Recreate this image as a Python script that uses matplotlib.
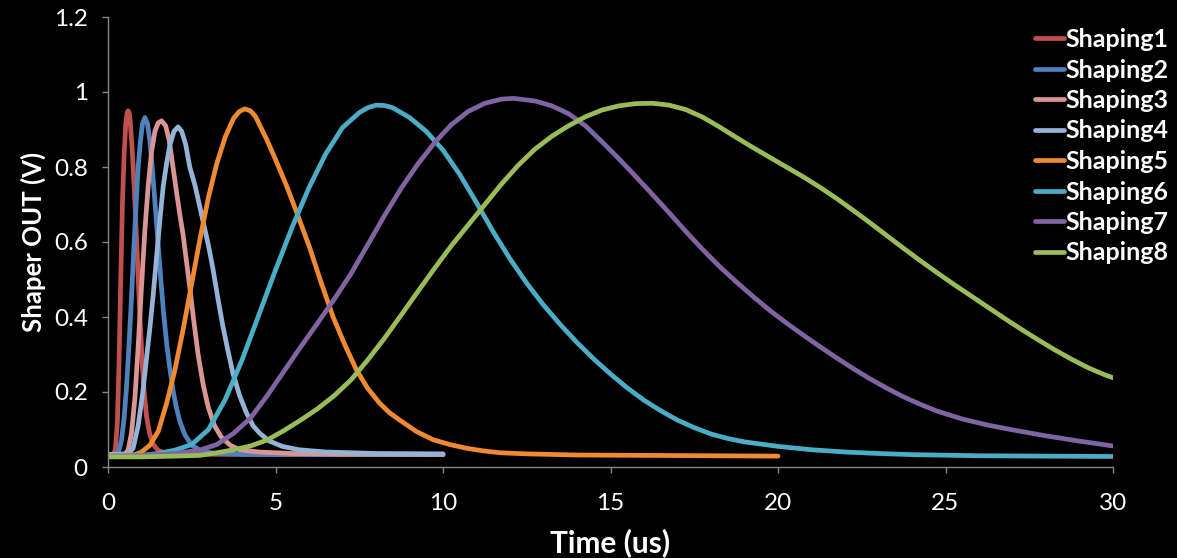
import matplotlib
matplotlib.use("Agg")
import matplotlib.pyplot as plt

plt.rcParams['font.family'] = ['Lato', 'DejaVu Sans']

# Shaper output pulses: time (us) and amplitude (V) for each shaping setting
t1 = [0, 0.15, 0.22, 0.28, 0.33, 0.38, 0.43, 0.48, 0.53, 0.57, 0.6, 0.63, 0.66, 0.72, 0.78, 0.84, 0.9,
      0.96, 1.02, 1.08, 1.15, 1.24, 1.35, 1.5, 1.75, 2.0, 3.0, 5.0, 7.5, 10.0]
v1 = [0.033, 0.034, 0.045, 0.12, 0.28, 0.50, 0.70, 0.83, 0.915, 0.945, 0.95, 0.945, 0.925, 0.85, 0.75, 0.63, 0.51,
      0.39, 0.28, 0.20, 0.135, 0.09, 0.06, 0.044, 0.037, 0.035, 0.034, 0.033, 0.033, 0.033]

t2 = [0, 0.25, 0.32, 0.4, 0.48, 0.55, 0.63, 0.7, 0.77, 0.84, 0.9, 0.97, 1.03, 1.1, 1.18, 1.25,
      1.32, 1.45, 1.55, 1.65, 1.75, 1.85, 1.95, 2.05, 2.15, 2.3, 2.5, 2.8, 3.2, 4.0, 6.0, 8.0, 10.0]
v2 = [0.033, 0.035, 0.042, 0.07, 0.13, 0.21, 0.33, 0.45, 0.58, 0.70, 0.80, 0.87, 0.915, 0.932, 0.915, 0.87,
      0.80, 0.65, 0.53, 0.42, 0.33, 0.26, 0.20, 0.155, 0.12, 0.085, 0.058, 0.042, 0.036, 0.034, 0.033, 0.033, 0.033]

t3 = [0, 0.5, 0.6, 0.7, 0.8, 0.9, 1.0, 1.1, 1.2, 1.3, 1.4, 1.5, 1.6, 1.72, 1.83, 1.94, 2.05, 2.15,
      2.24, 2.34, 2.44, 2.56, 2.69, 2.84, 2.99, 3.18, 3.38, 3.65, 3.93, 4.5, 5.5, 7.0, 10.0]
v3 = [0.033, 0.034, 0.045, 0.09, 0.18, 0.32, 0.48, 0.63, 0.75, 0.84, 0.895, 0.918, 0.923, 0.91, 0.87, 0.80, 0.73, 0.67,
      0.62, 0.55, 0.48, 0.39, 0.30, 0.22, 0.16, 0.11, 0.08, 0.058, 0.046, 0.04, 0.036, 0.034, 0.033]

t4 = [0, 0.6, 0.75, 0.9, 1.04, 1.15, 1.25, 1.35, 1.45, 1.55, 1.65, 1.75, 1.85, 1.97, 2.09, 2.2, 2.32,
      2.44, 2.6, 2.75, 2.9, 3.0, 3.13, 3.28, 3.43, 3.58, 3.73, 3.93, 4.13, 4.33, 4.53, 4.8, 5.2, 5.7,
      6.5, 8.0, 10.0]
v4 = [0.033, 0.035, 0.05, 0.11, 0.20, 0.29, 0.37, 0.46, 0.56, 0.66, 0.75, 0.81, 0.86, 0.895, 0.907, 0.895, 0.86,
      0.80, 0.75, 0.69, 0.63, 0.59, 0.53, 0.45, 0.375, 0.31, 0.25, 0.19, 0.145, 0.11, 0.09, 0.07, 0.055, 0.046,
      0.04, 0.036, 0.035]

t5 = [0, 0.8, 1.0, 1.25, 1.5, 1.75, 2.0, 2.25, 2.5, 2.75, 3.0, 3.25, 3.5, 3.75, 3.92, 4.08, 4.25, 4.4,
      4.73, 5.0, 5.33, 5.67, 6.02, 6.35, 6.72, 7.05, 7.41, 7.75, 8.11, 8.4, 8.71, 9.2, 9.7, 10.2, 10.7,
      11.2, 11.7, 12.5, 14.0, 16.0, 18.0, 20.0]
v5 = [0.03, 0.033, 0.04, 0.058, 0.095, 0.17, 0.26, 0.37, 0.49, 0.61, 0.72, 0.81, 0.88, 0.93, 0.948, 0.955, 0.95, 0.935,
      0.875, 0.82, 0.75, 0.67, 0.585, 0.495, 0.40, 0.33, 0.26, 0.21, 0.17, 0.145, 0.125, 0.095, 0.073, 0.06, 0.05,
      0.043, 0.038, 0.035, 0.032, 0.031, 0.030, 0.029]

t6 = [0, 1.0, 1.5, 2.0, 2.5, 3.0, 3.5, 4.0, 4.5, 5.0, 5.5, 6.0, 6.5, 7.0, 7.5, 7.75, 8.0, 8.25, 8.5,
      9.0, 9.5, 10.0, 10.5, 11.0, 11.5, 12.0, 12.5, 13.0, 13.5, 14.0, 14.5, 15.0, 15.5, 16.0, 16.5,
      17.0, 17.5, 18.0, 18.5, 19.0, 20.0, 21.0, 22.0, 23.0, 24.0, 26.0, 28.0, 30.0]
v6 = [0.03, 0.031, 0.036, 0.045, 0.06, 0.10, 0.18, 0.285, 0.405, 0.525, 0.64, 0.745, 0.835, 0.905, 0.945, 0.958, 0.965, 0.964, 0.958,
      0.932, 0.895, 0.845, 0.78, 0.705, 0.627, 0.555, 0.49, 0.432, 0.38, 0.332, 0.288, 0.248, 0.211, 0.178, 0.15,
      0.125, 0.105, 0.088, 0.076, 0.067, 0.055, 0.046, 0.040, 0.036, 0.033, 0.030, 0.029, 0.028]

t7 = [0, 1.0, 2.0, 2.74, 3.25, 3.75, 4.25, 4.75, 5.25, 5.75, 6.25, 6.75, 7.25, 7.75, 8.25, 8.75, 9.25,
      9.75, 10.25, 10.75, 11.25, 11.75, 12.1, 12.75, 13.25, 13.75, 14.25, 14.75, 15.25, 15.75, 16.25,
      16.75, 17.25, 17.75, 18.25, 18.75, 19.25, 19.75, 20.25, 20.75, 21.25, 21.75, 22.25, 22.75, 23.25,
      23.75, 24.25, 24.75, 25.5, 26.25, 27.0, 28.0, 29.0, 30.0]
v7 = [0.028, 0.03, 0.036, 0.045, 0.06, 0.09, 0.13, 0.19, 0.255, 0.32, 0.383, 0.447, 0.515, 0.592, 0.67, 0.743, 0.808,
      0.865, 0.913, 0.948, 0.97, 0.981, 0.983, 0.976, 0.963, 0.942, 0.91, 0.867, 0.822, 0.775, 0.727,
      0.678, 0.628, 0.58, 0.535, 0.494, 0.455, 0.418, 0.384, 0.352, 0.321, 0.291, 0.262, 0.235, 0.21,
      0.187, 0.167, 0.149, 0.128, 0.112, 0.099, 0.083, 0.069, 0.056]

t8 = [0, 1.0, 2.0, 2.75, 3.25, 3.75, 4.25, 4.75, 5.25, 5.75, 6.25, 6.75, 7.25, 7.75, 8.25, 8.75, 9.25,
      9.75, 10.25, 10.75, 11.25, 11.75, 12.25, 12.75, 13.25, 13.75, 14.25, 14.75, 15.25, 15.75, 16.25,
      16.75, 17.25, 17.75, 18.25, 18.75, 19.25, 19.75, 20.25, 20.75, 21.25, 21.75, 22.25, 22.75, 23.25,
      23.75, 24.25, 24.75, 25.25, 25.75, 26.25, 26.75, 27.25, 27.75, 28.25, 28.75, 29.25, 29.75, 30.0]
v8 = [0.027, 0.027, 0.029, 0.031, 0.038, 0.046, 0.056, 0.072, 0.097, 0.125, 0.155, 0.19, 0.232, 0.285, 0.343, 0.405, 0.468,
      0.53, 0.59, 0.645, 0.70, 0.755, 0.805, 0.848, 0.882, 0.91, 0.934, 0.952, 0.963, 0.969, 0.97,
      0.965, 0.953, 0.933, 0.907, 0.879, 0.852, 0.826, 0.80, 0.774, 0.746, 0.716, 0.684, 0.651, 0.617,
      0.583, 0.55, 0.518, 0.487, 0.457, 0.427, 0.397, 0.368, 0.34, 0.313, 0.288, 0.265, 0.246, 0.238]

series_names = ["Shaping1", "Shaping2", "Shaping3", "Shaping4",
                "Shaping5", "Shaping6", "Shaping7", "Shaping8"]
series_t = [t1, t2, t3, t4, t5, t6, t7, t8]
series_v = [v1, v2, v3, v4, v5, v6, v7, v8]
series_colors = ["#C0504D", "#4F81BD", "#D99694", "#95B3D7",
                 "#F08A32", "#4BACC6", "#8064A2", "#9BBB59"]

x_ticks = [0, 5, 10, 15, 20, 25, 30]
y_ticks = [0, 0.2, 0.4, 0.6, 0.8, 1.0, 1.2]
y_tick_labels = ["0", "0.2", "0.4", "0.6", "0.8", "1", "1.2"]

fig = plt.figure(figsize=(11.77, 5.58), dpi=100, facecolor="black")
ax = fig.add_axes([108 / 1177, 1 - 467 / 558, (1113 - 108) / 1177, (467 - 17) / 558])
ax.set_facecolor("black")

for name, t, v, c in zip(series_names, series_t, series_v, series_colors):
    ax.plot(t, v, color=c, lw=3.4, label=name, solid_capstyle="round", solid_joinstyle="round")

ax.set_xlim(0, 30)
ax.set_ylim(0, 1.2)
ax.set_xticks(x_ticks)
ax.set_xticklabels([str(x) for x in x_ticks])
ax.set_yticks(y_ticks)
ax.set_yticklabels(y_tick_labels)

for side in ("top", "right"):
    ax.spines[side].set_visible(False)
for side in ("left", "bottom"):
    ax.spines[side].set_color("#868686")
    ax.spines[side].set_linewidth(1.0)

ax.tick_params(axis="both", colors="#868686", direction="out", length=4, width=1.0,
               labelcolor="white", labelsize=17.5)
ax.tick_params(axis="x", pad=15)
ax.tick_params(axis="y", pad=10.5)

ax.set_xlabel("Time (us)", color="white", fontsize=21.5, fontweight="bold", labelpad=10)
ax.set_ylabel("Shaper OUT (V)", color="white", fontsize=18.5, fontweight="bold", labelpad=6)

leg = fig.legend(loc="upper left", bbox_to_anchor=(1035 / 1177, 1 - 28 / 558),
                 frameon=False, fontsize=18, handlelength=1.15, handletextpad=0.08,
                 labelspacing=0.3, borderaxespad=0, borderpad=0)
for txt in leg.get_texts():
    txt.set_color("white")
    txt.set_fontweight("bold")
for h in leg.get_lines():
    h.set_linewidth(3.4)

fig.savefig("out.png", dpi=100, facecolor="black")
